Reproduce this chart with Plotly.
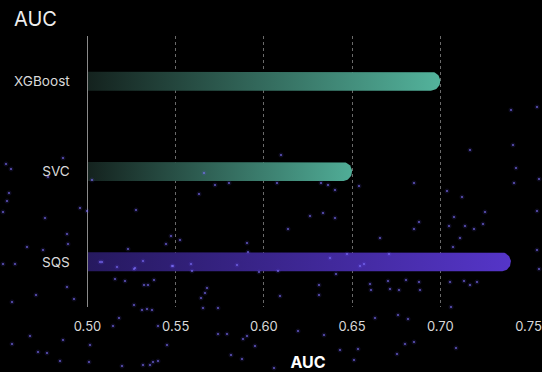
import numpy as np
import plotly.graph_objects as go

# ---- data -------------------------------------------------------------
models = ["XGBoost", "SVC", "SQS"]
auc = [0.70, 0.65, 0.74]
x_ticks = [0.50, 0.55, 0.60, 0.65, 0.70, 0.75]
x_tick_text = ["0.50", "0.55", "0.60", "0.65", "0.70", "0.75"]
x_range = [0.50, 0.75]

# gradient (left, right) per bar
bar_gradients = [
    ("#14221e", "#53b39c"),
    ("#14221e", "#50ad97"),
    ("#26195f", "#5535c8"),
]

# decorative star field, in canvas units (0..542 across, 0..372 down)
star_x = [511, 537, 6, 11, 63, 48, 9, 7, 45, 87, 80, 67, 68, 43, 27, 3, 204, 199, 215, 229,
          136, 171, 180, 166, 128, 247, 92, 281, 277, 321, 328, 335, 310, 335, 323, 288, 359,
          414, 419, 414, 380, 470, 513, 514, 447, 462, 454, 449, 465, 474, 483, 485, 460, 453,
          537, 539, 537, 516, 15, 3, 115, 125, 154, 144, 148, 67, 74, 36, 12, 134, 142, 147,
          152, 119, 113, 158, 205, 201, 207, 218, 203, 247, 243, 255, 227, 218, 30, 12, 63, 90,
          38, 47, 60, 89, 167, 143, 150, 153, 158, 122, 231, 242, 192, 173, 135, 100, 278, 336,
          319, 319, 280, 370, 371, 388, 390, 399, 406, 419, 420, 450, 464, 470, 477, 451, 539,
          375, 398, 408, 298, 324, 414, 405, 456, 340, 358, 354, 397, 274, 102, 117, 134, 143,
          172, 191, 237, 248, 259, 330, 347, 364, 360, 389]
star_y = [110, 107, 164, 169, 158, 177, 193, 201, 218, 211, 208, 234, 244, 250, 247, 212, 173, 194, 185, 183,
          210, 236, 240, 244, 249, 243, 180, 155, 183, 183, 185, 190, 216, 218, 213, 229, 186,
          183, 222, 229, 238, 150, 145, 183, 191, 197, 217, 226, 226, 229, 224, 212, 238, 247,
          211, 179, 250, 168, 264, 264, 279, 281, 280, 285, 285, 287, 299, 295, 302, 305, 310, 309,
          310, 318, 326, 326, 293, 298, 288, 308, 308, 336, 339, 346, 334, 334, 336, 344, 340, 345,
          352, 353, 361, 362, 345, 365, 365, 362, 361, 366, 355, 359, 271, 266, 268, 262, 271, 274,
          285, 295, 296, 284, 290, 281, 289, 290, 280, 282, 290, 282, 281, 285, 282, 307, 269,
          318, 315, 319, 331, 335, 342, 344, 348, 350, 349, 360, 354, 368, 262, 267, 269, 261,
          266, 264, 265, 252, 272, 258, 254, 264, 266, 254]

# ---- layout geometry --------------------------------------------------
W, H = 542, 372
plot_left, plot_right = 87.5, 528.5
plot_top, plot_bottom = 36, 307
bar_px = 19

n_rows = len(models)
px_per_x = (plot_right - plot_left) / (x_range[1] - x_range[0])
px_per_y = (plot_bottom - plot_top) / n_rows
rx = (bar_px / 2) / px_per_x          # cap radius in AUC units
hy = (bar_px / 2) / px_per_y          # half bar height in row units

fig = go.Figure()

# rounded, gradient-filled bars
theta = np.linspace(-np.pi / 2, np.pi / 2, 30)
for i, (name, v, (c0, c1)) in enumerate(zip(models, auc, bar_gradients)):
    xs = [x_range[0]] + list(v - rx + rx * np.cos(theta)) + [x_range[0]]
    ys = [i - hy] + list(i + hy * np.sin(theta)) + [i + hy]
    fig.add_trace(go.Scatter(
        x=xs, y=ys, mode="lines", fill="toself",
        line=dict(width=0, color=c1),
        fillgradient=dict(type="horizontal", colorscale=[[0, c0], [1, c1]]),
        name=name, hoverinfo="skip", showlegend=False,
    ))

# star field on a full-canvas overlay
fig.add_trace(go.Scatter(
    x=star_x, y=star_y, xaxis="x2", yaxis="y2", mode="markers",
    marker=dict(size=5, color="rgba(110,90,255,0.12)", line=dict(width=0)),
    hoverinfo="skip", showlegend=False, cliponaxis=False,
))
fig.add_trace(go.Scatter(
    x=star_x, y=star_y, xaxis="x2", yaxis="y2", mode="markers",
    marker=dict(size=2.2, color="rgba(130,115,255,0.7)", line=dict(width=0)),
    hoverinfo="skip", showlegend=False, cliponaxis=False,
))

font = "Inter, 'Open Sans', sans-serif"
fig.update_layout(
    width=W, height=H,
    margin=dict(l=0, r=0, t=0, b=0, pad=0, autoexpand=False),
    paper_bgcolor="#000000", plot_bgcolor="rgba(0,0,0,0)",
    font=dict(family=font, color="#d9d9d9"),
    title=dict(text="AUC", x=14 / W, xanchor="left", y=1 - 18.5 / H, yanchor="middle",
               font=dict(size=20, color="#eeeeee", family=font)),
    xaxis=dict(
        domain=[plot_left / W, plot_right / W], range=x_range,
        tickvals=x_ticks, ticktext=x_tick_text,
        tickfont=dict(size=13, color="#d9d9d9"),
        ticks="outside", ticklen=7, tickcolor="rgba(0,0,0,0)",
        showgrid=True, gridcolor="#6a6a6a", griddash="3px,3px", gridwidth=1,
        zeroline=False, showline=False, anchor="y", automargin=False,
        title=dict(text="<b>AUC</b>", font=dict(size=16, color="#ffffff"), standoff=25),
    ),
    yaxis=dict(
        domain=[1 - plot_bottom / H, 1 - plot_top / H], range=[n_rows - 0.5, -0.5],
        tickvals=list(range(n_rows)), ticktext=models,
        tickfont=dict(size=13.6, color="#d9d9d9"),
        ticks="outside", ticklen=14, tickcolor="rgba(0,0,0,0)",
        showgrid=False, zeroline=False, automargin=False,
        showline=True, linecolor="#8a8a8a", linewidth=1, anchor="x",
    ),
    xaxis2=dict(domain=[0, 1], range=[0, W], visible=False, anchor="y2", fixedrange=True),
    yaxis2=dict(domain=[0, 1], range=[H, 0], visible=False, anchor="x2", fixedrange=True),
)

fig.write_html("out.html")
